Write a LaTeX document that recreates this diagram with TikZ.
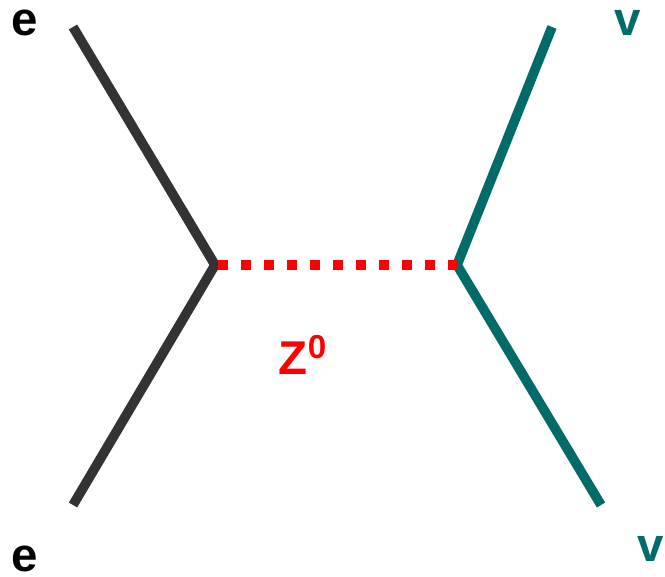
\documentclass[tikz,border=0pt]{standalone}
\usepackage{fontspec}
\setmainfont{Liberation Sans}
\usetikzlibrary{positioning,calc}
\definecolor{lepton}{HTML}{333333}
\definecolor{neutrino}{HTML}{006B68}
\definecolor{boson}{HTML}{FF0000}
\begin{document}
\begin{tikzpicture}[x=0.02cm,y=-0.02cm,
  every node/.style={font=\fontsize{27}{30}\selectfont\bfseries,inner sep=0pt},
  fermion/.style={draw=#1,line width=5.5pt,line join=miter},
  zline/.style={draw=boson,line width=5.7pt,dash pattern=on 5.7pt off 7.4pt}]
\useasboundingbox (0,0) rectangle (665,577);
% vertices and external legs
\coordinate (ein) at (73,27);
\coordinate (eout) at (73,505);
\coordinate (vl) at (215,265);
\coordinate (vr) at (457,265);
\coordinate (nuin) at (552,27);
\coordinate (nuout) at (601,505);
\draw[fermion=lepton] (ein) -- (vl) -- (eout);
\draw[fermion=neutrino] (nuin) -- (vr) -- (nuout);
\draw[zline] ($(vl)+(3,0)$) -- ($(vr)+(3,0)$);
% labels
\node (elabtop) at (25,23) {e};
\node (elabbot) at (25,559) {e};
\node[text=neutrino] (nulabtop) at (628,23) {v};
\node[text=neutrino] (nulabbot) at (651,549) {v};
\node[text=boson] (zlab) at (303,355) {Z\textsuperscript{0}};
\end{tikzpicture}
\end{document}
